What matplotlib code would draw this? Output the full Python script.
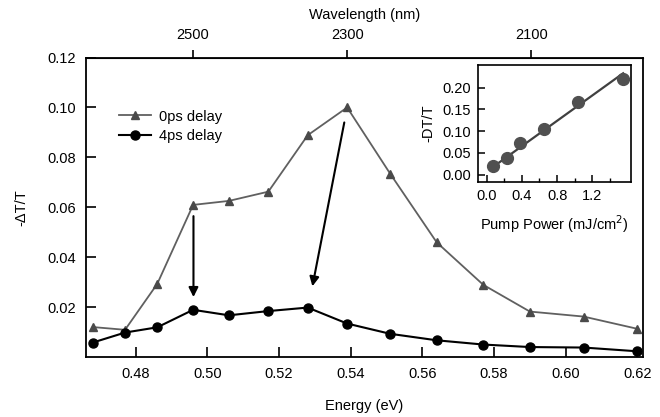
import numpy as np
import matplotlib.pyplot as plt
from matplotlib.ticker import FixedLocator

plt.rcParams['font.family'] = ['Liberation Sans', 'DejaVu Sans']
plt.rcParams['font.size'] = 10.5

# main data: energy (eV) vs -dT/T
energy = [0.468, 0.477, 0.486, 0.496, 0.506, 0.517, 0.528, 0.539,
          0.551, 0.564, 0.577, 0.590, 0.605, 0.620]
delay0 = [0.0121, 0.0110, 0.0294, 0.0610, 0.0626, 0.0663, 0.0889, 0.1000,
          0.0735, 0.0460, 0.0290, 0.0183, 0.0163, 0.0114]
delay4 = [0.0059, 0.0099, 0.0120, 0.0190, 0.0168, 0.0185, 0.0199, 0.0135,
          0.0094, 0.0068, 0.0051, 0.0041, 0.0039, 0.0024]

# inset data: pump power dependence
power = [0.075, 0.227, 0.378, 0.648, 1.037, 1.545]
dtt = [0.020, 0.038, 0.072, 0.106, 0.166, 0.220]
fit_x = [0.08, 1.55]
fit_y = [0.019, 0.233]

wl_ticks = [2500, 2300, 2100]

fig = plt.figure(figsize=(6.6, 4.17), dpi=100)
ax = fig.add_axes([0.1303, 0.1432, 0.8435, 0.7189])

ax.plot(energy, delay0, '-^', color='#606060', mfc='#4a4a4a', mec='#4a4a4a',
        lw=1.3, ms=6, label='0ps delay')
ax.plot(energy, delay4, '-o', color='black', lw=1.5, ms=6.5, label='4ps delay')

# arrows
ax.annotate('', xy=(0.4961, 0.0241), xytext=(0.4961, 0.0565),
            arrowprops=dict(arrowstyle='-|>', color='black', lw=1.5,
                            mutation_scale=14, shrinkA=0, shrinkB=0))
ax.annotate('', xy=(0.5293, 0.0284), xytext=(0.5382, 0.0940),
            arrowprops=dict(arrowstyle='-|>', color='black', lw=1.5,
                            mutation_scale=14, shrinkA=0, shrinkB=0))

ax.set_xlim(0.4661, 0.6215)
ax.set_ylim(0, 0.12)
ax.set_xticks([0.48, 0.50, 0.52, 0.54, 0.56, 0.58, 0.60, 0.62])
ax.set_yticks([0.02, 0.04, 0.06, 0.08, 0.10, 0.12])
ax.tick_params(direction='in', length=7, width=1.2, pad=7)
ax.tick_params(axis='y', length=7.5, pad=7)
for s in ax.spines.values():
    s.set_linewidth(1.3)
ax.set_xlabel('Energy (eV)', labelpad=13)
ax.set_ylabel('-ΔT/T', labelpad=14)

leg = ax.legend(loc='upper left', bbox_to_anchor=(0.035, 0.87), frameon=False,
                handlelength=2.2, handletextpad=0.6, labelspacing=0.4,
                fontsize=10.5)

# top axis in wavelength
top = ax.secondary_xaxis('top', functions=(lambda e: 1239.84 / e,
                                           lambda w: 1239.84 / w))
top.set_xticks(wl_ticks)
top.tick_params(direction='out', length=6, width=1.2, pad=5)
top.set_xlabel('Wavelength (nm)', labelpad=7)

# inset
ins = fig.add_axes([0.7247, 0.5628, 0.2309, 0.2813])
ins.plot(power, dtt, 'o', color='#505050', ms=8.5, zorder=3)
ins.plot(fit_x, fit_y, '-', color='#404040', lw=1.6)
ins.set_xlim(-0.095, 1.636)
ins.set_ylim(-0.0175, 0.252)
ins.xaxis.set_major_locator(FixedLocator([0.0, 0.4, 0.8, 1.2]))
ins.xaxis.set_minor_locator(FixedLocator([0.2, 0.6, 1.0, 1.4]))
ins.set_yticks([0.0, 0.05, 0.10, 0.15, 0.20])
ins.tick_params(direction='in', length=5, width=1.1, pad=5, labelsize=10.5)
ins.tick_params(which='minor', direction='in', length=3, width=1.0)
for s in ins.spines.values():
    s.set_linewidth(1.2)
ins.set_xlabel('Pump Power (mJ/cm$^{2}$)', labelpad=7, fontsize=10.5)
ins.set_ylabel('-DT/T', labelpad=5, fontsize=10.5)

fig.savefig('out.png', dpi=100)
